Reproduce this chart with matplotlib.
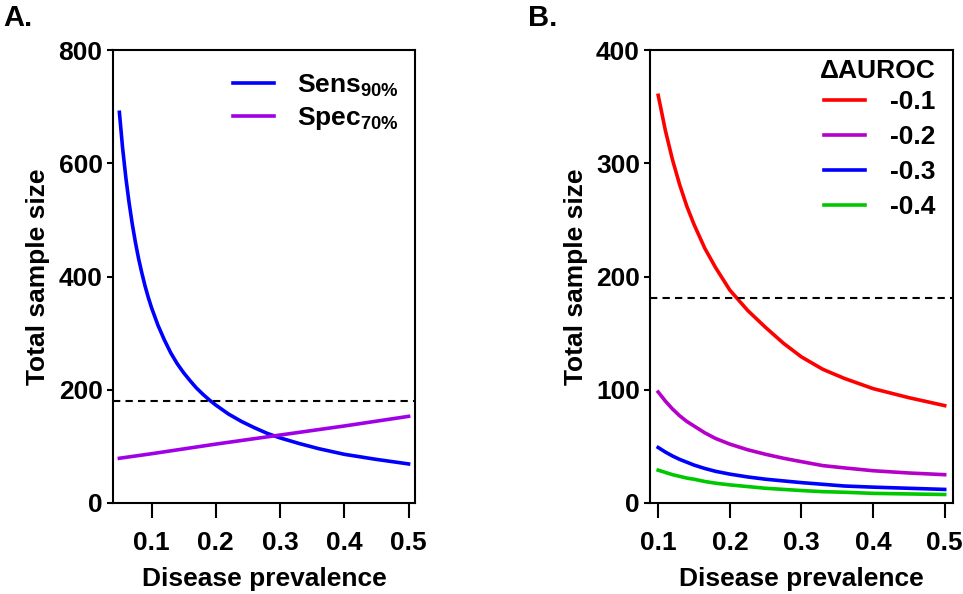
"""Sample size vs disease prevalence, two panels."""

import matplotlib.pyplot as plt

plt.rcParams["font.family"] = ["Liberation Sans", "DejaVu Sans"]
plt.rcParams["font.weight"] = "bold"
plt.rcParams["mathtext.fontset"] = "custom"
plt.rcParams["mathtext.rm"] = "Liberation Sans:bold"
plt.rcParams["mathtext.bf"] = "Liberation Sans:bold"
plt.rcParams["mathtext.default"] = "bf"

# Panel A data
prev_a = [0.05, 0.055, 0.06, 0.065, 0.07, 0.075, 0.08, 0.085, 0.09, 0.095,
          0.10, 0.11, 0.12, 0.13, 0.14, 0.15, 0.16, 0.17, 0.18, 0.19,
          0.20, 0.22, 0.24, 0.26, 0.28, 0.30, 0.33, 0.36, 0.40, 0.45, 0.50]
sens90 = [690, 627, 575, 531, 493, 460, 431, 406, 383, 363,
          345, 314, 288, 265, 246, 230, 216, 203, 192, 182,
          173, 157, 144, 133, 123, 115, 105, 96, 86, 77, 69]
prev_spec = [0.05, 0.10, 0.20, 0.30, 0.40, 0.50]
spec70 = [79, 87, 104, 120, 136, 153]
threshold = 181

# Panel B data
prev_b = [0.10, 0.11, 0.12, 0.13, 0.14, 0.15, 0.165, 0.18, 0.20, 0.225,
          0.25, 0.275, 0.30, 0.33, 0.36, 0.40, 0.45, 0.50]
dauroc = {
    "-0.1": [360, 329, 303, 281, 262, 246, 225, 208, 188, 170,
             155, 141, 129, 118, 110, 101, 93, 86],
    "-0.2": [98, 90, 83, 77, 72, 68, 62, 57, 52, 47,
             43, 39.5, 36.5, 33, 31, 28.5, 26.5, 25],
    "-0.3": [49, 45, 41.5, 38.5, 36, 33.5, 30.5, 28, 25.5, 23,
             21, 19.5, 18, 16.5, 15, 14, 13, 12],
    "-0.4": [29, 27, 25, 23.5, 22, 21, 19, 17.5, 16, 14.5,
             13, 12, 11, 10, 9.5, 8.5, 8, 7.5],
}
colors_b = ["#ff0000", "#b400c8", "#0000ff", "#00c800"]

FS = 19

fig = plt.figure(figsize=(9.63, 5.94), dpi=100)
ax_a = fig.add_axes([0.1173, 0.1532, 0.3136, 0.7626])
ax_b = fig.add_axes([0.6753, 0.1532, 0.3146, 0.7626])


def style_axes(ax):
    for s in ax.spines.values():
        s.set_linewidth(1.5)
    ax.tick_params(axis="x", length=11, width=1.5, pad=9, labelsize=FS)
    ax.tick_params(axis="y", length=4.5, width=1.5, pad=3, labelsize=FS)
    for lab in ax.get_xticklabels() + ax.get_yticklabels():
        lab.set_fontweight("bold")
    ax.set_xlabel("Disease prevalence", fontsize=FS, fontweight="bold", labelpad=9)
    ax.set_ylabel("Total sample size", fontsize=FS, fontweight="bold", labelpad=6)


# Panel A
ax_a.plot(prev_a, sens90, color="#0000ff", lw=2.6, label="Sens$_{90\\%}$")
ax_a.plot(prev_spec, spec70, color="#a000e8", lw=2.6, label="Spec$_{70\\%}$")
ax_a.axhline(threshold, color="black", lw=1.5, ls=(0, (3.5, 2.5)))
ax_a.set_xlim(0.04, 0.51)
ax_a.set_ylim(0, 800)
ax_a.set_xticks([0.1, 0.2, 0.3, 0.4, 0.5])
ax_a.set_xticklabels(["0.1", "0.2", "0.3", "0.4", "0.5"])
ax_a.set_yticks([0, 200, 400, 600, 800])
style_axes(ax_a)
ax_a.legend(loc="upper right", bbox_to_anchor=(1.0, 0.985), frameon=False,
            fontsize=FS, handlelength=1.55, handletextpad=0.9,
            labelspacing=0.25, borderaxespad=0.2)

# Panel B
for (lab, vals), c in zip(dauroc.items(), colors_b):
    ax_b.plot(prev_b, vals, color=c, lw=2.6, label=lab)
ax_b.axhline(threshold, color="black", lw=1.5, ls=(0, (3.5, 2.5)))
ax_b.set_xlim(0.089, 0.512)
ax_b.set_ylim(0, 400)
ax_b.set_xticks([0.1, 0.2, 0.3, 0.4, 0.5])
ax_b.set_xticklabels(["0.1", "0.2", "0.3", "0.4", "0.5"])
ax_b.set_yticks([0, 100, 200, 300, 400])
style_axes(ax_b)
leg = ax_b.legend(loc="upper right", bbox_to_anchor=(0.995, 1.015), frameon=False,
                  fontsize=FS, handlelength=1.55, handletextpad=0.95,
                  labelspacing=0.42, borderaxespad=0.2, title="\u0394AUROC",
                  title_fontproperties={"size": FS, "weight": "bold"})
leg._legend_box.align = "right"
leg._legend_box.sep = 5

# Panel letters
fig.text(0.003, 0.957, "A.", fontsize=21, fontweight="bold")
fig.text(0.548, 0.957, "B.", fontsize=21, fontweight="bold")

fig.savefig("out.png", dpi=100)
